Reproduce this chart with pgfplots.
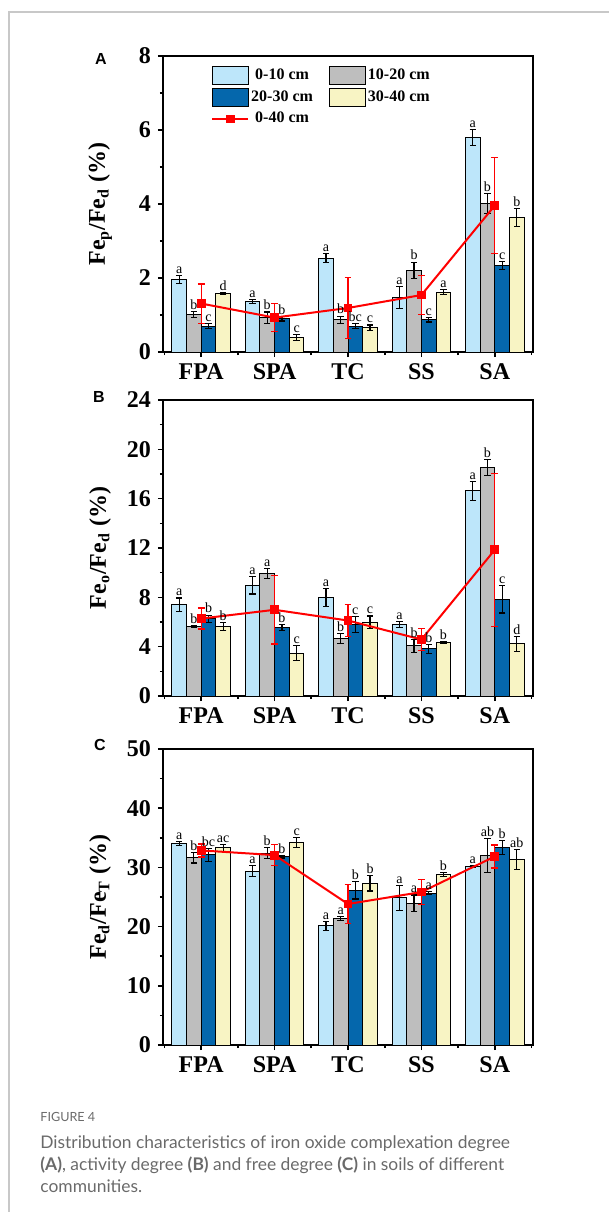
\documentclass[border=0pt]{standalone}
\usepackage{pgfplots}
\pgfplotsset{compat=1.18}
\usepackage{pgfplotstable}
\usepackage{fontspec}
\setmainfont{Liberation Serif}
\newfontfamily\capfont{Lato}
\newfontfamily\lblfont{Liberation Sans}

\definecolor{lblue}{HTML}{BDE6FA}
\definecolor{mgray}{HTML}{BEBEBE}
\definecolor{dblue}{HTML}{0567AC}
\definecolor{lyell}{HTML}{F8F4C4}
\definecolor{capgray}{HTML}{6A6A6A}
\definecolor{framegray}{HTML}{C8C8C8}

% columns: 0-10 (a), 10-20 (b), 20-30 (c), 30-40 (d), mean 0-40 (m); e = error, l = letter
\pgfplotstableread{
x a ae al b be bl c ce cl d de dl m me
0 1.96 0.10 a 1.02 0.08 b 0.70 0.07 c  1.59 0.02 d 1.31 0.53
1 1.37 0.05 a 0.92 0.16 b 0.90 0.06 b  0.40 0.08 c 0.93 0.38
2 2.54 0.13 a 0.87 0.10 b 0.70 0.06 bc 0.66 0.07 c 1.19 0.82
3 1.47 0.29 a 2.21 0.22 b 0.87 0.06 c  1.62 0.07 a 1.54 0.52
4 5.80 0.22 a 4.01 0.27 b 2.34 0.11 c  3.63 0.24 b 3.96 1.30
}\tabA
\pgfplotstableread{
x a ae al b be bl c ce cl d de dl m me
0 7.39  0.55 a 5.63  0.08 b 6.26 0.30 b 5.63 0.35 b 6.28  0.85
1 8.97  0.70 a 9.94  0.40 a 5.55 0.25 b 3.47 0.60 c 6.99  2.78
2 7.99  0.70 a 4.66  0.40 b 5.82 0.65 c 5.99 0.50 c 6.12  1.28
3 5.82  0.25 a 4.06  0.50 b 3.82 0.35 b 4.36 0.08 b 4.58  0.87
4 16.63 0.75 a 18.55 0.65 b 7.83 1.10 c 4.23 0.60 d 11.86 6.20
}\tabB
\pgfplotstableread{
x a ae al b be bl c ce cl d de dl m me
0 34.04 0.35 a 31.63 0.90 b  32.13 1.10 bc 33.31 0.60 ac 32.87 1.10
1 29.38 0.90 a 32.42 0.90 b  31.80 0.20 b  34.21 0.90 c  32.08 1.80
2 20.11 0.70 a 21.40 0.30 a  26.18 1.50 b  27.30 1.30 b  23.82 3.30
3 24.89 2.10 a 23.93 1.40 a  25.67 0.30 a  28.82 0.30 b  25.84 2.10
4 30.17 0.20 a 32.02 2.90 ab 33.37 1.20 b  31.29 1.70 ab 31.85 1.95
}\tabC

\pgfplotsset{
  panel/.style={
    scale only axis, width=185pt, height=148pt,
    xmin=-0.52, xmax=4.52, ymin=0,
    xtick={0,1,2,3,4}, xticklabels={FPA,SPA,TC,SS,SA},
    minor xtick={-0.5,0.5,1.5,2.5,3.5,4.5},
    minor y tick num=1,
    tick pos=left, tick align=outside,
    major tick length=2.5pt, minor tick length=1.5pt,
    every tick/.style={black, line width=0.8pt},
    axis line style={line width=0.9pt},
    /pgf/number format/assume math mode=true,
    ticklabel style={font=\bfseries\fontsize{12}{12}\selectfont},
    ylabel style={at={(axis description cs:-0.17,0.5)}, anchor=center,
      font=\bfseries\fontsize{12}{13}\selectfont},
  },
  barsty/.style={ybar, bar width=0.2, draw=black, line width=0.5pt,
    legend image code/.code={\draw[##1] (0pt,-4.5pt) rectangle (18pt,4.5pt);}},
  errsty/.style={draw=none, mark=none, forget plot,
    error bars/y dir=both, error bars/y explicit,
    error bars/error bar style={draw=black, solid, line width=0.6pt},
    error bars/error mark options={rotate=90, draw=black, mark size=1.6pt, line width=0.6pt}},
  linesty/.style={red, line width=1pt, mark=square*, mark size=1.7pt,
    mark options={solid, fill=red},
    legend image code/.code={\draw[##1, mark repeat=2, mark phase=2]
      plot coordinates {(0pt,0pt) (9pt,0pt) (18pt,0pt)};},
    error bars/y dir=both, error bars/y explicit,
    error bars/error bar style={red, line width=0.6pt},
    error bars/error mark options={rotate=90, red, mark size=1.7pt, line width=0.6pt}},
  labsty/.style={draw=none, mark=none, forget plot, nodes near coords,
    point meta=explicit symbolic,
    nodes near coords style={anchor=south, inner sep=0.8pt, black,
      font=\fontsize{7}{7}\selectfont}},
}

\newcommand\drawpanel[1]{%
  \addplot[barsty, bar shift=-0.3, fill=lblue] table[x=x, y=a] {#1};
  \addplot[barsty, bar shift=-0.1, fill=mgray] table[x=x, y=b] {#1};
  \addplot[barsty, bar shift=0.1, fill=dblue] table[x=x, y=c] {#1};
  \addplot[barsty, bar shift=0.3, fill=lyell] table[x=x, y=d] {#1};
  \addplot[errsty] table[x expr=\thisrow{x}-0.3, y=a, y error=ae] {#1};
  \addplot[errsty] table[x expr=\thisrow{x}-0.1, y=b, y error=be] {#1};
  \addplot[errsty] table[x expr=\thisrow{x}+0.1, y=c, y error=ce] {#1};
  \addplot[errsty] table[x expr=\thisrow{x}+0.3, y=d, y error=de] {#1};
  \addplot[linesty] table[x=x, y=m, y error=me] {#1};
  \addplot[labsty] table[x expr=\thisrow{x}-0.3, y expr=\thisrow{a}+\thisrow{ae}, meta=al] {#1};
  \addplot[labsty] table[x expr=\thisrow{x}-0.1, y expr=\thisrow{b}+\thisrow{be}, meta=bl] {#1};
  \addplot[labsty] table[x expr=\thisrow{x}+0.1, y expr=\thisrow{c}+\thisrow{ce}, meta=cl] {#1};
  \addplot[labsty] table[x expr=\thisrow{x}+0.3, y expr=\thisrow{d}+\thisrow{de}, meta=dl] {#1};
}

\begin{document}
\begin{tikzpicture}
\useasboundingbox (0pt,0pt) rectangle (304.5pt,-606pt);
\draw[framegray, line width=0.7pt] (4.5pt,-606pt) -- (4.5pt,-6pt) -- (304.5pt,-6pt);

\begin{axis}[panel, at={(81.5pt,-176pt)}, anchor=south west,
    ymax=8, ytick={0,2,4,6,8},
    ylabel={Fe\textsubscript{p}/Fe\textsubscript{d} (\%)},
    legend style={draw=none, fill=none, at={(axis description cs:0.113,0.985)},
      anchor=north west, legend columns=2,
      nodes={inner xsep=1pt},
      font=\bfseries\fontsize{8}{9}\selectfont,
      /tikz/every even column/.append style={column sep=7pt}},
    legend entries={0-10 cm, 10-20 cm, 20-30 cm, 30-40 cm, 0-40 cm}]
\drawpanel{\tabA}
\end{axis}

\begin{axis}[panel, at={(81.5pt,-348pt)}, anchor=south west,
    ymax=24, ytick={0,4,8,12,16,20,24},
    ylabel={Fe\textsubscript{o}/Fe\textsubscript{d} (\%)}]
\drawpanel{\tabB}
\end{axis}

\begin{axis}[panel, at={(81.5pt,-522.5pt)}, anchor=south west,
    ymax=50, ytick={0,10,20,30,40,50},
    ylabel={Fe\textsubscript{d}/Fe\textsubscript{T} (\%)}]
\drawpanel{\tabC}
\end{axis}

\node[font=\lblfont\bfseries\fontsize{8}{8}\selectfont] at (50.5pt,-29.5pt) {A};
\node[font=\lblfont\bfseries\fontsize{8}{8}\selectfont] at (49.5pt,-198.5pt) {B};
\node[font=\lblfont\bfseries\fontsize{8}{8}\selectfont] at (50pt,-372.5pt) {C};

\begin{scope}[every node/.style={anchor=base west, inner sep=0pt, text=capgray}]
\node[font=\capfont\fontsize{6.3}{8}\selectfont] at (20pt,-560.8pt) {FIGURE 4};
\node[font=\capfont\fontsize{8.7}{11}\selectfont] at (20pt,-574pt)
  {Distribution characteristics of iron oxide complexation degree};
\node[font=\capfont\fontsize{8.7}{11}\selectfont] at (20pt,-585pt)
  {{\bfseries(A)}, activity degree {\bfseries(B)} and free degree {\bfseries(C)} in soils of different};
\node[font=\capfont\fontsize{8.7}{11}\selectfont] at (20pt,-596pt) {communities.};
\end{scope}
\end{tikzpicture}
\end{document}
